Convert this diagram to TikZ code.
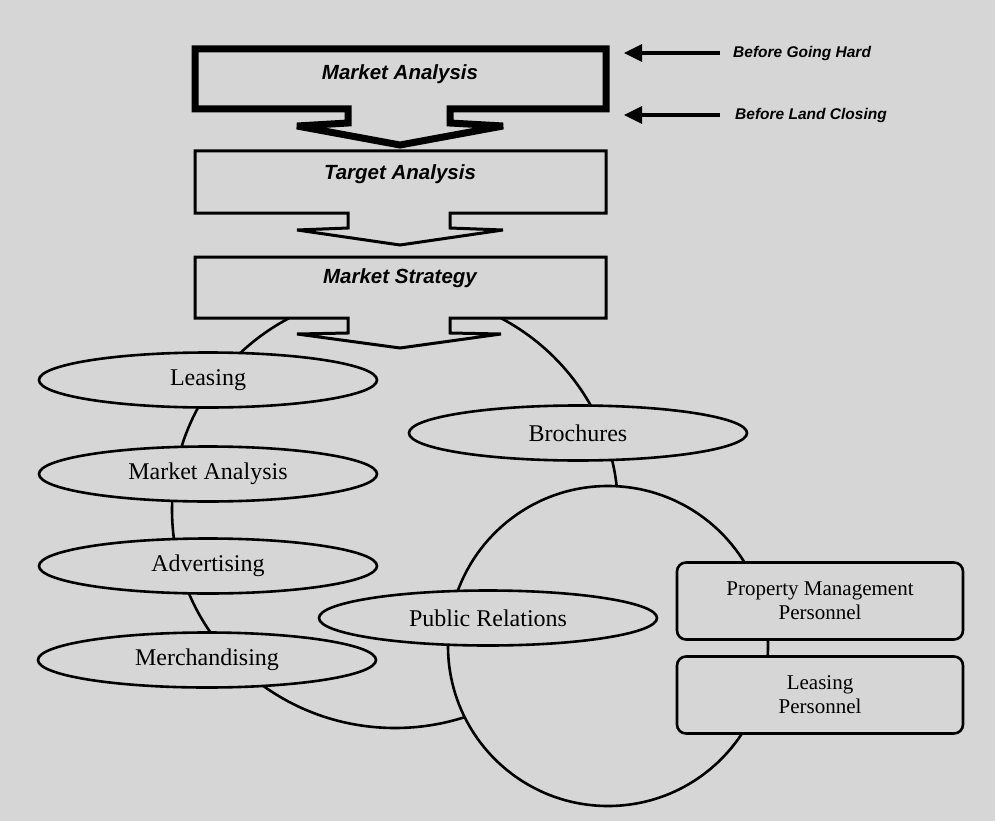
\documentclass[tikz,border=0pt]{standalone}
\usepackage{fontspec}
\setmainfont{Liberation Serif}
\setsansfont{Liberation Sans}
\usetikzlibrary{arrows.meta,shapes.geometric,calc}
\definecolor{paper}{RGB}{214,214,214}
\begin{document}
\begin{tikzpicture}[x=1pt,y=-1pt,
  ring/.style={draw=black,line width=2.6pt},
  oval/.style={ellipse,draw,line width=2.6pt,fill=paper,minimum width=338pt,
    minimum height=55pt,inner sep=0pt,font=\fontsize{24}{28}\selectfont},
  stage/.style={draw,fill=paper,line width=3pt,line join=miter,miter limit=3},
  stagelabel/.style={font=\sffamily\bfseries\itshape\fontsize{20.5}{24}\selectfont},
  note/.style={font=\sffamily\bfseries\itshape\fontsize{15.5}{18}\selectfont,
    anchor=west,inner sep=0pt},
  staff/.style={rectangle,rounded corners=9pt,draw,line width=2.6pt,fill=paper,
    minimum width=286pt,minimum height=77pt,align=center,
    font=\fontsize{21}{24}\selectfont,inner sep=0pt},
  pointer/.style={line width=3.2pt,-{Triangle[length=18pt,width=17pt]}}]

% page
\fill[paper] (0,0) rectangle (995,821);

% the two large rings behind the activity ovals
\draw[ring] (395,510) ellipse [x radius=223pt, y radius=218pt];
\draw[ring,fill=paper] (608,646) circle [radius=160pt];

% activity ovals
\node[oval] (leasing) at (208,380) {Leasing};
\node[oval] (mktan)   at (208,474) {Market Analysis};
\node[oval] (advert)  at (208,566) {Advertising};
\node[oval] (merch)   at (207,660) {Merchandising};
\node[oval] (broch)   at (578,433) {Brochures};
\node[oval] (pubrel)  at (488,618) {Public Relations};

% staged boxes, each ending in a downward arrow
\draw[stage,line width=7pt]
  (195,49) -- (606,49) -- (606,109) -- (450,109) -- (450,123) -- (503,126)
  -- (400,145) -- (297,126) -- (348,123) -- (348,109) -- (195,109) -- cycle;
\draw[stage]
  (195,151) -- (606,151) -- (606,213) -- (450,213) -- (450,228) -- (503,230)
  -- (400,245) -- (297,230) -- (348,228) -- (348,213) -- (195,213) -- cycle;
\draw[stage]
  (195,257) -- (606,257) -- (606,318) -- (450,318) -- (450,333) -- (501,334)
  -- (400,348) -- (297,334) -- (348,333) -- (348,318) -- (195,318) -- cycle;

\node[stagelabel] (s1) at (400,74)  {Market Analysis};
\node[stagelabel] (s2) at (400,174) {Target Analysis};
\node[stagelabel] (s3) at (400,278) {Market Strategy};

% milestone notes
\node[note] (hard) at (733,53)  {Before Going Hard};
\node[note] (land) at (735,115) {Before Land Closing};
\coordinate (hardtip) at (624,53);
\coordinate (landtip) at (624,115);
\draw[pointer] ([xshift=-13pt]hard.west) -- (hardtip);
\draw[pointer] ([xshift=-15pt]land.west) -- (landtip);

% personnel boxes, linked where the ring passes between them
\node[staff] (pm) at (820,601) {Property Management\\Personnel};
\node[staff] (lp) at (820,695) {Leasing\\Personnel};
\draw[line width=2.8pt] ([xshift=-52pt]pm.south) -- ([xshift=-52pt]lp.north);

\end{tikzpicture}
\end{document}
